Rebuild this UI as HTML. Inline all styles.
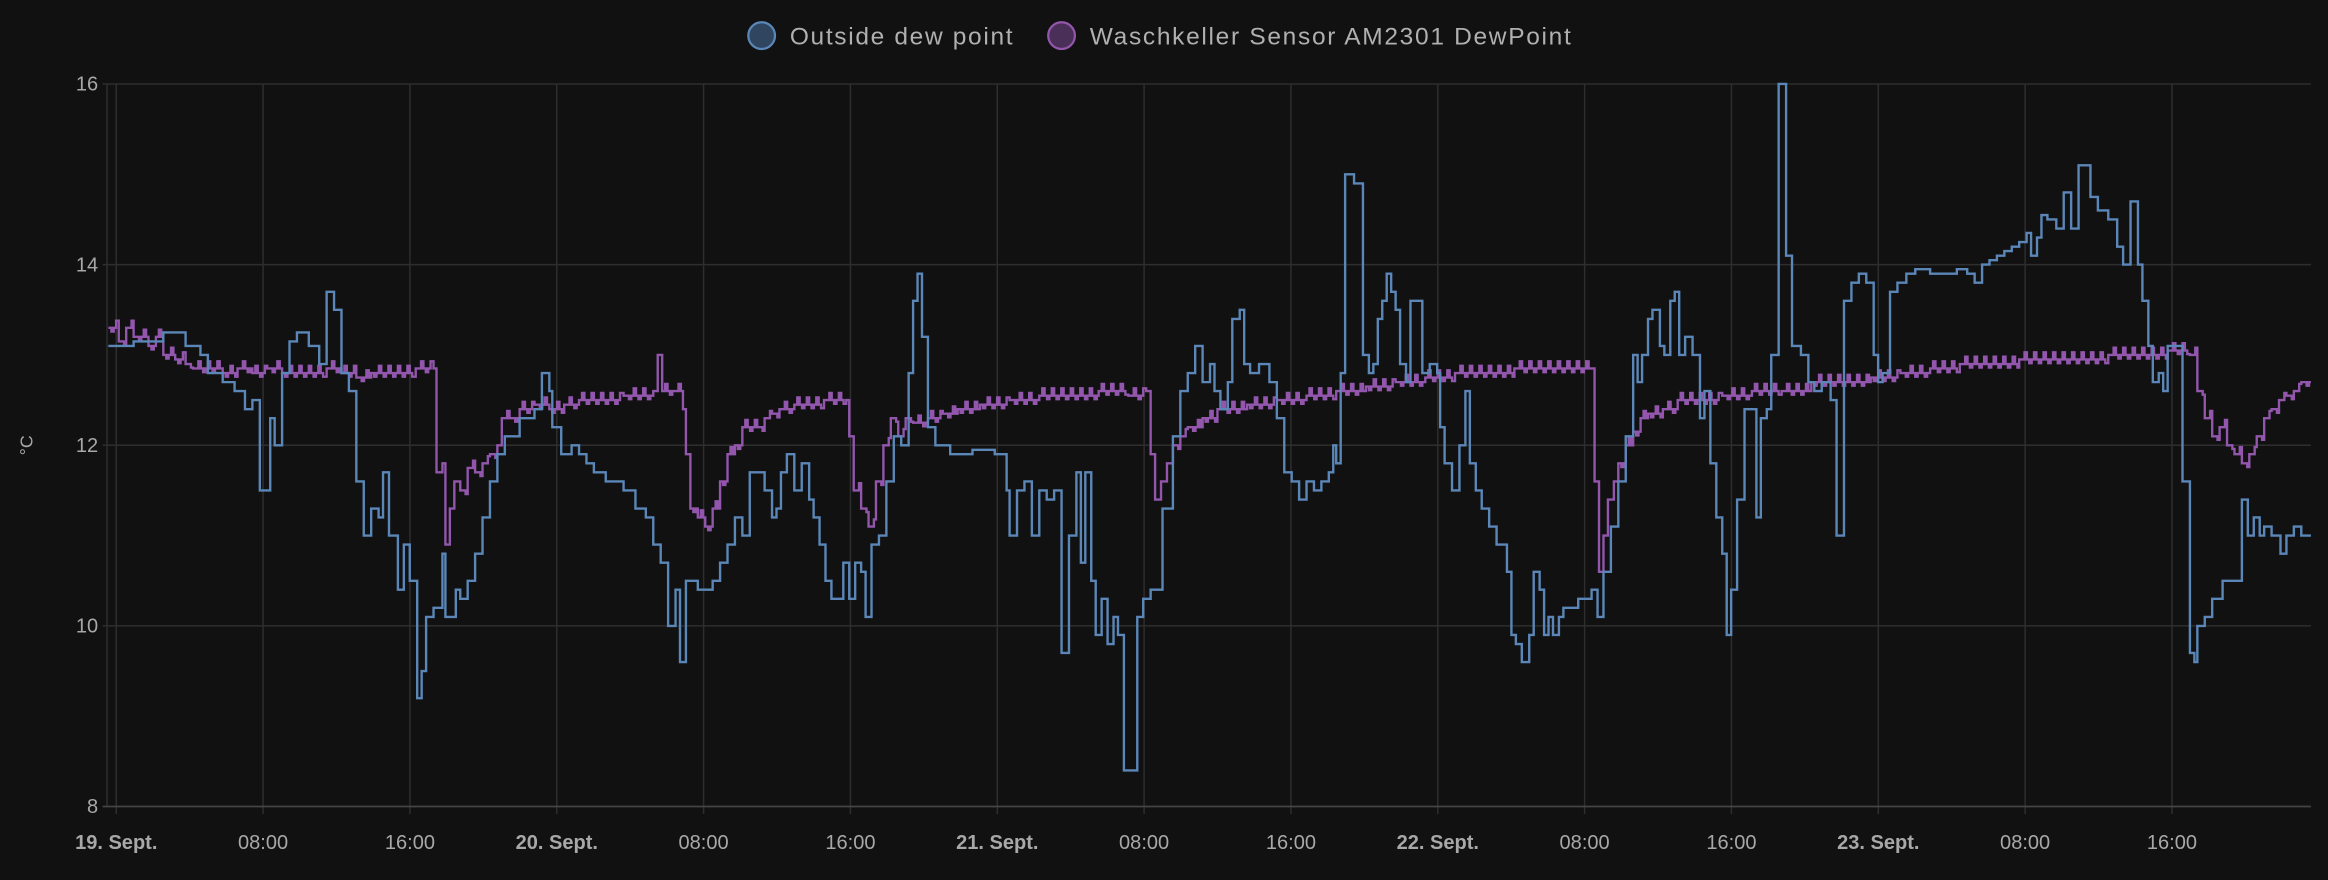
<!DOCTYPE html>
<html><head><meta charset="utf-8"><style>
html,body{margin:0;padding:0;background:#111111;}
svg{display:block}
text{font-family:"Liberation Sans",sans-serif;}
</style></head><body>
<svg id="c" width="2328" height="880" viewBox="0 0 1568 593" preserveAspectRatio="none" xmlns="http://www.w3.org/2000/svg">
<rect width="1568" height="593" fill="#111111"/>
<g id="grid"></g>
<g id="labels" fill="#a8a8a8" font-size="13.5"></g>
<text x="22" y="300" fill="#a8a8a8" font-size="12" transform="rotate(-90 22 300)" text-anchor="middle">°C</text>
<circle cx="513" cy="24" r="9" fill="#2f4560" stroke="#5b87b8" stroke-width="1.5"/>
<text x="532" y="30" fill="#b0b0b0" font-size="16.5" textLength="150">Outside dew point</text>
<circle cx="715" cy="24" r="9" fill="#4a2f58" stroke="#9256ad" stroke-width="1.5"/>
<text x="734" y="30" fill="#b0b0b0" font-size="16.5" textLength="324">Waschkeller Sensor AM2301 DewPoint</text>
<path id="pp" fill="none" stroke="#9256ad" stroke-width="1.6"/>
<path id="bp" fill="none" stroke="#5b87b8" stroke-width="1.6"/>
</svg>
<script>
const NS="http://www.w3.org/2000/svg";
const L=72.1,R=1556.5;
const Y=v=>543.5-(v-8)*60.86;
const g=document.getElementById('grid'),lb=document.getElementById('labels');
function el(p,t,a,txt){const e=document.createElementNS(NS,t);for(const k in a)e.setAttribute(k,a[k]);if(txt)e.textContent=txt;p.appendChild(e);return e;}
[16,14,12,10].forEach(v=>{el(g,'line',{x1:L-3,x2:R,y1:Y(v),y2:Y(v),stroke:'#2e2e2e','stroke-width':1});
 el(lb,'text',{x:L-6,y:Y(v)+4.5,'text-anchor':'end'},String(v));});
el(lb,'text',{x:L-6,y:Y(8)+4.5,'text-anchor':'end'},'8');
el(g,'line',{x1:L,x2:L,y1:Y(16),y2:Y(8),stroke:'#2e2e2e','stroke-width':1});
const names=['19. Sept.','08:00','16:00','20. Sept.','08:00','16:00','21. Sept.','08:00','16:00','22. Sept.','08:00','16:00','23. Sept.','08:00','16:00'];
for(let k=0;k<15;k++){const x=78.3+k*98.9;
 el(g,'line',{x1:x,x2:x,y1:Y(16),y2:Y(8)+5,stroke:'#2e2e2e','stroke-width':1});
 const a={x:x,y:572,'text-anchor':'middle'};if(k%3==0){a['font-weight']='bold';}
 el(lb,'text',a,names[k]);}
el(g,'line',{x1:L-3,x2:R,y1:Y(8),y2:Y(8),stroke:'#444','stroke-width':1.2});
const blue=[73,13.1,90,13.15,110,13.25,125,13.1,135,13.0,140,12.8,150,12.7,158,12.6,165,12.4,170,12.5,175,11.5,182,12.3,185,12.0,190,12.8,195,13.15,200,13.25,208,13.1,215,12.9,220,13.7,225,13.5,230,12.8,235,12.6,240,11.6,245,11.0,250,11.3,255,11.2,258,11.7,262,11.0,268,10.4,272,10.9,276,10.5,281,9.2,284,9.5,287,10.1,292,10.2,298,10.8,300,10.1,303,10.1,307,10.4,310,10.3,315,10.5,320,10.8,325,11.2,330,11.6,335,11.9,340,12.1,350,12.3,360,12.4,365,12.8,370,12.6,372,12.2,378,11.9,385,12.0,390,11.9,395,11.8,400,11.7,408,11.6,420,11.5,428,11.3,435,11.2,440,10.9,445,10.7,450,10.0,455,10.4,458,9.6,462,10.5,470,10.4,480,10.5,485,10.7,490,10.9,495,11.2,500,11.0,505,11.7,510,11.7,515,11.5,520,11.2,523,11.3,526,11.7,530,11.9,535,11.5,540,11.8,545,11.4,548,11.2,552,10.9,556,10.5,560,10.3,565,10.3,568,10.7,572,10.3,576,10.7,580,10.6,583,10.1,587,10.9,592,11.0,597,11.6,602,12.1,607,12.0,612,12.8,615,13.6,618,13.9,621,13.2,625,12.2,630,12.0,640,11.9,655,11.95,670,11.9,678,11.5,680,11.0,685,11.5,690,11.6,695,11.0,700,11.5,705,11.4,710,11.5,715,9.7,720,11.0,725,11.7,728,10.7,731,11.7,735,10.5,738,9.9,742,10.3,746,9.8,750,10.1,753,9.9,757,8.4,766,10.1,770,10.3,775,10.4,783,11.3,790,12.1,795,12.6,800,12.8,805,13.1,810,12.7,815,12.9,818,12.6,822,12.4,827,12.7,830,13.4,835,13.5,838,12.9,842,12.8,848,12.9,855,12.7,860,12.3,865,11.7,870,11.6,875,11.4,880,11.6,885,11.5,890,11.6,895,11.7,898,12.0,900,11.8,903,12.8,906,15.0,912,14.9,918,13.0,922,12.8,925,12.9,928,13.4,931,13.6,934,13.9,937,13.7,940,13.5,943,12.9,947,12.7,950,13.6,955,13.6,958,12.8,963,12.9,968,12.8,970,12.2,973,11.8,978,11.5,983,12.0,987,12.6,990,11.8,994,11.5,998,11.3,1003,11.1,1008,10.9,1015,10.6,1018,9.9,1021,9.8,1025,9.6,1030,9.9,1033,10.6,1037,10.4,1040,9.9,1043,10.1,1046,9.9,1050,10.1,1053,10.2,1058,10.2,1063,10.3,1068,10.3,1072,10.4,1076,10.1,1080,10.6,1085,11.1,1090,11.6,1095,12.1,1100,13.0,1103,12.7,1106,13.0,1110,13.4,1113,13.5,1118,13.1,1121,13.0,1125,13.6,1128,13.7,1131,13.0,1135,13.2,1140,13.0,1145,12.3,1148,12.6,1152,11.8,1156,11.2,1160,10.8,1163,9.9,1166,10.4,1170,11.4,1175,12.4,1180,12.4,1183,11.2,1186,12.3,1190,12.4,1193,13.0,1198,16.0,1203,14.1,1207,13.1,1213,13.0,1218,12.7,1222,12.6,1227,12.7,1233,12.5,1237,11.0,1242,13.6,1247,13.8,1252,13.9,1257,13.8,1262,13.0,1265,12.7,1268,12.8,1273,13.7,1278,13.8,1284,13.9,1290,13.95,1300,13.9,1310,13.9,1318,13.95,1325,13.9,1330,13.8,1335,14.0,1340,14.05,1345,14.1,1350,14.15,1355,14.2,1360,14.25,1365,14.35,1368,14.1,1372,14.3,1375,14.55,1379,14.5,1385,14.4,1390,14.8,1395,14.4,1400,15.1,1408,14.75,1413,14.6,1420,14.5,1426,14.2,1430,14.0,1435,14.7,1440,14.0,1443,13.6,1447,13.1,1450,12.7,1454,12.8,1457,12.6,1460,13.1,1465,13.1,1470,11.6,1475,9.7,1478,9.6,1480,10.0,1485,10.1,1490,10.3,1497,10.5,1504,10.5,1510,11.4,1514,11.0,1518,11.2,1522,11.0,1525,11.1,1530,11.0,1536,10.8,1540,11.0,1545,11.1,1550,11.0,1556.5,11.0];
const purple=[73,13.3,80,13.15,85,13.3,90,13.2,100,13.1,105,13.2,110,13.0,118,12.95,125,12.9,130,12.85,150,12.8,160,12.85,170,12.8,180,12.85,190,12.8,220,12.85,230,12.8,240,12.75,250,12.8,280,12.85,292,12.85,294,11.7,298,11.8,300,10.9,303,11.3,306,11.6,310,11.5,315,11.75,320,11.7,325,11.8,330,11.9,335,12.0,338,12.3,345,12.3,350,12.4,360,12.45,370,12.4,380,12.45,390,12.5,420,12.55,440,12.6,443,13.0,446,12.6,455,12.6,460,12.4,462,11.9,465,11.3,470,11.2,475,11.1,480,11.3,485,11.6,490,11.9,495,12.0,500,12.2,510,12.2,515,12.3,520,12.35,525,12.4,535,12.45,555,12.5,570,12.5,572,12.1,575,11.5,580,11.3,585,11.1,590,11.6,595,12.0,600,12.3,605,12.1,610,12.3,615,12.25,625,12.3,635,12.35,645,12.4,660,12.45,680,12.5,700,12.55,740,12.6,760,12.55,772,12.6,775,11.9,778,11.4,782,11.6,786,11.8,790,12.0,795,12.1,800,12.2,810,12.3,820,12.4,840,12.45,860,12.5,880,12.55,900,12.6,920,12.65,940,12.7,960,12.75,980,12.8,1020,12.85,1072,12.85,1074,11.6,1077,10.6,1080,11.0,1083,11.4,1087,11.6,1090,11.8,1095,12.0,1100,12.15,1105,12.3,1110,12.35,1120,12.4,1130,12.5,1160,12.55,1180,12.6,1200,12.6,1220,12.7,1260,12.75,1280,12.8,1300,12.85,1320,12.9,1360,12.95,1420,13.0,1460,13.05,1475,13.0,1480,12.6,1485,12.3,1490,12.1,1495,12.2,1500,12.0,1505,11.9,1510,11.8,1515,11.9,1520,12.1,1525,12.3,1530,12.4,1535,12.5,1540,12.55,1545,12.6,1550,12.7,1556.5,12.7];
function stepPath(a,jit){let d='M'+a[0]+' '+Y(a[1]).toFixed(1);let s=1;
 for(let i=2;i<a.length;i+=2){const x0=a[i-2],v0=a[i-1],x1=a[i],v1=a[i+1];
  if(jit && x1-x0>4){let x=x0+2;while(x<x1-1){s++;const v=v0+((s%4==0)?0.08:((s%4==2)?-0.04:0));d+='H'+x.toFixed(1)+'V'+Y(v).toFixed(1);x+=1.6;}}
  d+='H'+x1+'V'+Y(v1).toFixed(1);}
 return d;}
document.getElementById('bp').setAttribute('d',stepPath(blue,false));
document.getElementById('pp').setAttribute('d',stepPath(purple,true));
</script>
</body></html>
